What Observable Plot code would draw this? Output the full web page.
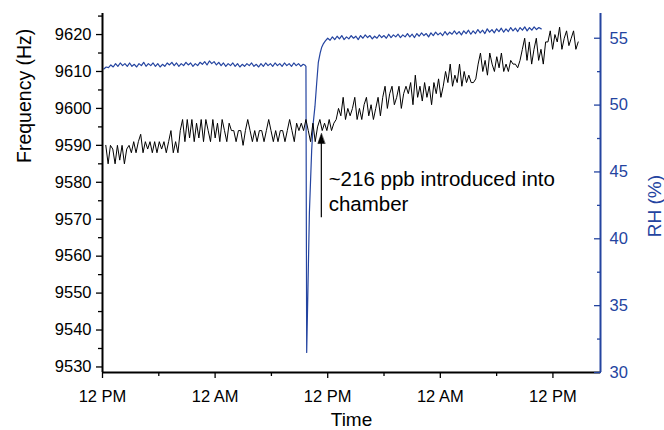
<!DOCTYPE html>
<html><head><meta charset="utf-8">
<script src="https://cdn.jsdelivr.net/npm/d3@7"></script>
<script src="https://cdn.jsdelivr.net/npm/@observablehq/plot@0.6"></script>
<style>body{margin:0;background:#fff}</style>
</head><body><div id="chart"></div>
<script>
// ---- data (hours after the first 12 PM tick) ----
const freqStartHour = 0.35, freqStepHours = 0.248;
const frequencyHz = [
  9590, 9585, 9590, 9589, 9585, 9590, 9586, 9590, 9585, 9589,
  9590, 9588, 9591, 9588, 9591, 9593, 9588, 9591, 9589, 9591, 9588, 9591, 9588, 9591, 9589, 9591, 9588, 9591, 9594, 9588, 9591, 9588,
  9594, 9597, 9591, 9597, 9592, 9597, 9591, 9596, 9592, 9597, 9591, 9597, 9594, 9591, 9597, 9592, 9596, 9591, 9597, 9594, 9591, 9596,
  9594, 9594, 9591, 9594, 9594, 9590, 9594, 9597, 9594, 9591, 9594, 9591, 9594, 9594, 9591, 9594, 9597, 9594, 9591, 9594, 9591, 9594, 9594, 9591, 9594, 9597, 9594, 9591, 9596, 9594,
  9596, 9594, 9597, 9594, 9591, 9596, 9591, 9595, 9597, 9594, 9596, 9594, 9597, 9594, 9596,
  9597, 9600, 9598, 9603, 9597, 9600, 9598, 9600, 9603, 9597, 9600,
  9597, 9601, 9603, 9598, 9601, 9597, 9600, 9603, 9598,
  9603, 9606, 9600, 9604, 9606, 9601, 9603, 9606, 9600, 9604, 9606,
  9604, 9607, 9601, 9609, 9603, 9606, 9602, 9607, 9603, 9606, 9601, 9607, 9604, 9608, 9603,
  9606, 9610, 9607, 9612, 9606, 9609, 9607, 9612, 9606, 9610, 9607, 9609, 9607, 9607, 9608,
  9612, 9615, 9610, 9613, 9609, 9615, 9612, 9610, 9614, 9611, 9615, 9610, 9612, 9610, 9613, 9612, 9612, 9611, 9613,
  9616, 9619, 9613, 9618, 9612, 9616, 9619, 9613, 9616, 9612, 9618,
  9618, 9621, 9616, 9620, 9618, 9622, 9616, 9619, 9621, 9617, 9619, 9621, 9616, 9618
];
const rhBeforeStartHour = 0.14, rhStepHours = 0.25;
const rhBefore = [
  52.7, 52.85, 52.8, 53.0, 52.85, 53.1, 52.9, 53.15, 52.95, 53.1,
  52.9, 53.15, 52.9, 53.05, 52.85, 53.1, 52.95, 53.2, 52.9, 53.1,
  52.95, 53.15, 52.9, 53.1, 52.85, 53.05, 52.9, 53.15, 53.0, 53.2,
  52.95, 53.15, 52.9, 53.1, 52.95, 53.2, 53.0, 53.15, 52.9, 53.1,
  52.95, 53.2, 53.05, 53.25, 53.0, 53.3, 53.1, 53.25, 53.0, 53.2,
  52.95, 53.15, 52.9, 53.1, 52.95, 53.15, 52.9, 53.1, 52.85, 53.05,
  52.9, 53.1, 52.95, 53.15, 52.9, 53.05, 52.85, 53.1, 52.9, 53.15,
  52.95, 53.1, 52.9, 53.15, 52.95, 53.1, 52.9, 53.15, 52.95, 53.1,
  52.9, 53.15, 52.95, 53.1, 52.9, 53.05
];
const rhDropHours  = [21.55, 21.68, 21.76, 21.9, 22.05, 22.29, 22.45, 22.64, 22.82, 23.0, 23.2, 23.35, 23.55, 23.75];
const rhDropValues = [53.0, 52.9, 31.5, 36.5, 42.0, 46.6, 48.6, 49.9, 51.6, 53.2, 53.9, 54.3, 54.6, 54.8];
const rhAfterStartHour = 24.0;
const rhAfter = [
  55.0, 54.85, 55.1, 54.9, 55.15, 54.95, 55.2, 54.9, 55.1, 54.95,
  55.2, 55.0, 55.15, 54.9, 55.2, 55.0, 55.25, 55.05, 55.2, 54.95,
  55.15, 55.0, 55.25, 55.05, 55.2, 55.0, 55.3, 55.05, 55.25, 55.1,
  55.3, 55.05, 55.25, 55.1, 55.35, 55.1, 55.3, 55.05, 55.35, 55.15,
  55.4, 55.2, 55.35, 55.1, 55.4, 55.2, 55.45, 55.25, 55.4, 55.2,
  55.5, 55.25, 55.45, 55.3, 55.55, 55.3, 55.5, 55.25, 55.55, 55.35,
  55.6, 55.3, 55.55, 55.35, 55.65, 55.4, 55.6, 55.35, 55.7, 55.45,
  55.65, 55.4, 55.7, 55.5, 55.75, 55.45, 55.7, 55.5, 55.8, 55.55,
  55.75, 55.5, 55.8, 55.6, 55.85, 55.55, 55.8, 55.6, 55.85, 55.65,
  55.8, 55.7
];
const freqTicks = [9530, 9540, 9550, 9560, 9570, 9580, 9590, 9600, 9610, 9620];
const freqMinorTicks = [9535, 9545, 9555, 9565, 9575, 9585, 9595, 9605, 9615, 9625];
const rhTicks = [30, 35, 40, 45, 50, 55];
const rhMinorTicks = [32.5, 37.5, 42.5, 47.5, 52.5];
const timeTickHours = [0, 12, 24, 36, 48];
const timeMinorHours = [6, 18, 30, 42];
const freqDomain = [9528.5, 9625.7];
const rhDomain = [30, 56.85];
const hourDomain = [0, 53.07];
const annotationLines = ["~216 ppb introduced into", "chamber"];
const annotationFreqs = [9580.8, 9574.0];
const annotationHour = 24.1;
const arrowHour = 23.32, arrowFromFreq = 9570.55, arrowToFreq = 9593.2;

// ---- helpers ----
const t0 = Date.UTC(2021, 0, 1, 12);
const H = h => new Date(t0 + h * 3600e3);
const rhToFreq = r => freqDomain[0] + (r - rhDomain[0]) * (freqDomain[1] - freqDomain[0]) / (rhDomain[1] - rhDomain[0]);
const freqToRh = f => rhDomain[0] + (f - freqDomain[0]) * (rhDomain[1] - rhDomain[0]) / (freqDomain[1] - freqDomain[0]);
const blue = "#2444a0";
const font = "'Liberation Sans', Arial, sans-serif";

const freqData = frequencyHz.map((f, i) => ({time: H(freqStartHour + i * freqStepHours), y: f}));
const rhData = [
  ...rhBefore.map((r, i) => ({time: H(rhBeforeStartHour + i * rhStepHours), y: rhToFreq(r)})),
  ...rhDropValues.map((r, i) => ({time: H(rhDropHours[i]), y: rhToFreq(r)})),
  ...rhAfter.map((r, i) => ({time: H(rhAfterStartHour + i * rhStepHours), y: rhToFreq(r)}))
];
const arrowData = [{x: H(arrowHour), y1: arrowFromFreq, y2: arrowToFreq - 2, tip: arrowToFreq}];
const annData = annotationLines.map((t, i) => ({text: t, x: H(annotationHour), y: annotationFreqs[i]}));
const headShape = {draw(ctx) { ctx.moveTo(0, 0); ctx.lineTo(-3.5, 10); ctx.lineTo(3.5, 10); ctx.closePath(); }};

const chart = Plot.plot({
  width: 664, height: 430,
  marginLeft: 102, marginRight: 64, marginTop: 13, marginBottom: 58,
  style: {fontFamily: font, fontSize: "16.5px", color: "black", background: "white"},
  x: {type: "utc", domain: hourDomain.map(H)},
  y: {domain: freqDomain},
  marks: [
    Plot.line(rhData, {x: "time", y: "y", stroke: blue, strokeWidth: 1.2}),
    Plot.line(freqData, {x: "time", y: "y", stroke: "black", strokeWidth: 1}),
    // axis lines
    Plot.ruleX([H(hourDomain[0])], {stroke: "black", strokeWidth: 2}),
    Plot.ruleY([freqDomain[0]], {stroke: "black", strokeWidth: 2}),
    Plot.ruleX([H(hourDomain[1])], {stroke: blue, strokeWidth: 2}),
    // left axis
    Plot.axisY(freqTicks, {anchor: "left", tickSize: 6, tickPadding: 5, fontSize: 16.5, tickFormat: d3.format("d"), label: null, strokeWidth: 1.3}),
    Plot.axisY(freqMinorTicks.filter(d => d <= freqDomain[1]), {anchor: "left", tickSize: 4, fill: "none", label: null, strokeWidth: 1.3}),
    // bottom axis
    Plot.axisX(timeTickHours.map(H), {anchor: "bottom", tickSize: 6, tickPadding: 12, fontSize: 16.5, tickFormat: d3.utcFormat("%-I %p"), label: null, strokeWidth: 1.3}),
    Plot.axisX(timeMinorHours.map(H), {anchor: "bottom", tickSize: 4, fill: "none", label: null, strokeWidth: 1.3}),
    // right axis (RH), ticks inward
    Plot.axisY(rhTicks.map(rhToFreq), {anchor: "right", tickSize: 7, insetRight: 7, fill: "none", stroke: blue, label: null, strokeWidth: 1.3}),
    Plot.axisY(rhMinorTicks.map(rhToFreq), {anchor: "right", tickSize: 4, insetRight: 4, fill: "none", stroke: blue, label: null, strokeWidth: 1.3}),
    Plot.axisY(rhTicks.map(rhToFreq), {anchor: "right", tickSize: 0, tickPadding: 9, fill: blue, fontSize: 16.5, tickFormat: d => String(Math.round(freqToRh(d))), label: null}),
    // axis titles
    Plot.text(["Frequency (Hz)"], {text: d => d, frameAnchor: "left", dx: -78, dy: -30, rotate: -90, fontSize: 19.5, fill: "black"}),
    Plot.text(["RH (%)"], {text: d => d, frameAnchor: "right", dx: 54, dy: -18, rotate: -90, fontSize: 19, fill: blue}),
    Plot.text(["Time"], {text: d => d, frameAnchor: "bottom", dy: 53, fontSize: 19, fill: "black"}),
    // annotation
    Plot.link(arrowData, {x1: "x", x2: "x", y1: "y1", y2: "y2", stroke: "black", strokeWidth: 1.2}),
    Plot.vector(arrowData, {x: "x", y: "tip", length: 1, anchor: "start", shape: headShape, fill: "black", stroke: "black", strokeWidth: 0.5}),
    Plot.text(annData, {x: "x", y: "y", text: "text", textAnchor: "start", fontSize: 20.5, fill: "black"})
  ]
});
document.getElementById("chart").appendChild(chart);
</script></body></html>
